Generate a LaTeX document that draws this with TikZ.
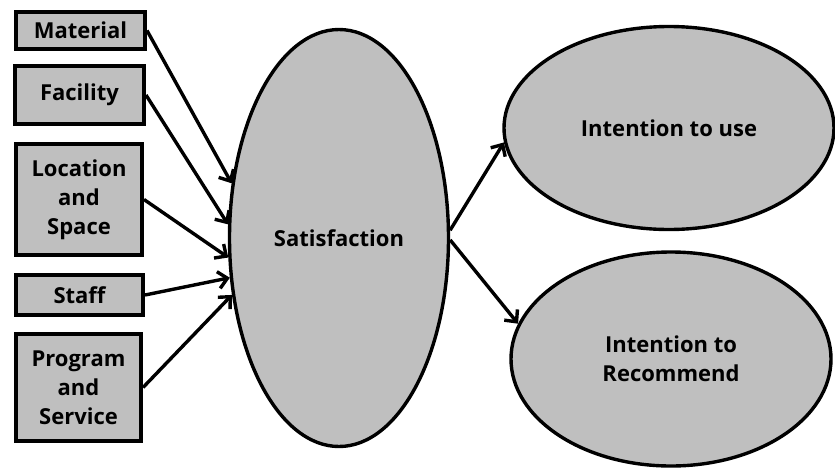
\documentclass[tikz,border=0pt]{standalone}
\usepackage{fontspec}
\setmainfont{Open Sans}
\usetikzlibrary{arrows.meta,shapes.geometric}
\definecolor{fillgray}{RGB}{191,191,191}

\begin{document}
\begin{tikzpicture}[x=1pt, y=-1pt,
          every node/.style={font=\bfseries\fontsize{22}{29}\selectfont, align=center},
          factor/.style={rectangle, draw, line width=4pt, fill=fillgray, inner sep=0pt},
          latent/.style={ellipse, draw, line width=3.4pt, fill=fillgray, inner sep=0pt},
          link/.style={-{Straight Barb[length=9pt,width=17pt]}, line width=3.4pt}]
        \useasboundingbox (0,0) rectangle (835,472);
        % factors
        \node[factor, minimum width=129pt, minimum height=37pt] (M) at (80.5,30.5) {Material};
        \node[factor, minimum width=129pt, minimum height=58pt] (F) at (79.5,95) {Facility};
        \node[factor, minimum width=126pt, minimum height=111pt] (L) at (79,199.5) {Location\\and\\Space};
        \node[factor, minimum width=127pt, minimum height=40pt] (St) at (79.5,295) {Staff};
        \node[factor, minimum width=125pt, minimum height=107pt] (P) at (78.5,387.5) {Program\\and\\Service};
        % latent variables
        \node[latent, minimum width=219pt, minimum height=417pt] (S) at (339,238) {Satisfaction};
        \node[latent, minimum width=330pt, minimum height=203pt] (U) at (669,128) {Intention to use};
        \node[latent, minimum width=320pt, minimum height=214pt] (R) at (671,359) {Intention to\\Recommend};
        % paths
        \foreach \f/\a in {M/153.7, F/173.3, L/190, St/200.7, P/208.4}
            \draw[link] (\f.east) -- (S.\a);
        \draw[link] (S.4) -- (U.185.8);
        \draw[link] (S.-1) -- (R.167.5);
      \end{tikzpicture}
\end{document}
